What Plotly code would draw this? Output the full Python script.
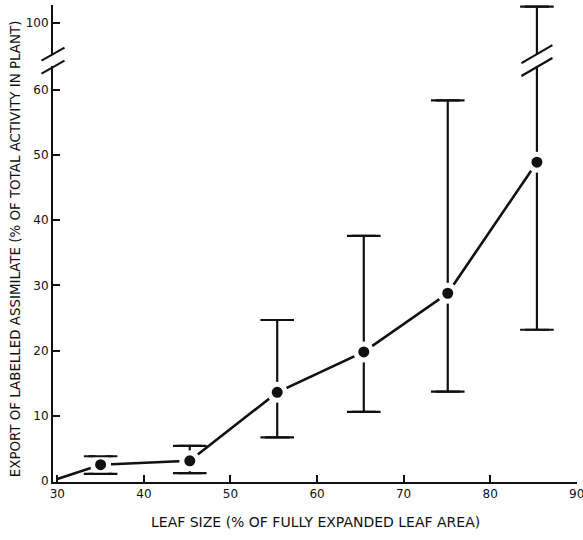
import plotly.graph_objects as go

# ---- data ----
leaf_size = [35.0, 45.3, 55.4, 65.4, 75.1, 85.4]
export_mean = [2.5, 3.1, 13.6, 19.8, 28.8, 48.9]
err_high = [3.8, 5.4, 24.7, 37.6, 58.4, 102.5]
err_low = [1.1, 1.2, 6.7, 10.6, 13.7, 23.2]
line_start_x = [30.0]
line_start_y = [0.3]

x_ticks = [30, 40, 50, 60, 70, 80, 90]
y_ticks_low = [0, 10, 20, 30, 40, 50, 60]
y_ticks_high = [100]

x_title = "LEAF SIZE (% OF FULLY EXPANDED LEAF AREA)"
y_title = "EXPORT OF LABELLED ASSIMILATE (% OF TOTAL ACTIVITY IN PLANT)"

# ---- layout geometry ----
W, H = 583, 540
ml, mr, mt, mb = 53, 6, 5, 58
low_dom = [0, 0.872]
high_dom = [0.895, 1.0]
low_range = [-0.15, 63.65]
high_range = [95.09, 102.76]
x_range = [29.5, 90.03]

FONT = "DejaVu Sans"
INK = "#111111"

plus = [h - m for h, m in zip(err_high, export_mean)]
minus = [m - l for m, l in zip(export_mean, err_low)]

fig = go.Figure()

# error bars (lower and upper panels)
for ya in ["y", "y2"]:
    fig.add_trace(go.Scatter(
        x=leaf_size, y=export_mean, mode="markers", yaxis=ya,
        marker=dict(size=1, color="rgba(0,0,0,0)"),
        error_y=dict(type="data", symmetric=False, array=plus, arrayminus=minus,
                     color=INK, thickness=2.2, width=12),
        hoverinfo="skip", showlegend=False))

# connecting line
fig.add_trace(go.Scatter(
    x=line_start_x + leaf_size, y=line_start_y + export_mean, mode="lines",
    line=dict(color=INK, width=2.6), showlegend=False, hoverinfo="skip"))

# points with white halo (gaps)
fig.add_trace(go.Scatter(
    x=leaf_size, y=export_mean, mode="markers",
    marker=dict(size=16, color=INK, line=dict(color="white", width=5)),
    showlegend=False))

# caps redrawn on top so the halo never hides them
for ya, vals in [("y", err_high[:-1] + err_low), ("y2", [err_high[-1]])]:
    xs = leaf_size[:-1] + leaf_size if ya == "y" else [leaf_size[-1]]
    fig.add_trace(go.Scatter(
        x=xs, y=vals, mode="markers", yaxis=ya,
        marker=dict(symbol="line-ew", size=24, color=INK,
                    line=dict(color=INK, width=2.2)),
        hoverinfo="skip", showlegend=False))

# ---- break marks ----
plot_w = W - ml - mr
plot_h = H - mt - mb
gap_lo = low_dom[1]
gap_hi = high_dom[0]
dx = 11.5 / plot_w
dy = 6.5 / plot_h
shapes = []
for yc in [gap_lo - 0.002, gap_hi + 0.002]:
    shapes.append(dict(type="line", xref="paper", yref="paper",
                       x0=-dx, x1=dx, y0=yc - dy, y1=yc + dy,
                       line=dict(color=INK, width=2)))
bar_x = leaf_size[-1]
ddx = 15.5 / plot_w * (x_range[1] - x_range[0])
ddy = 9 / plot_h
for yc in [gap_lo - 0.002, gap_hi + 0.002]:
    shapes.append(dict(type="line", xref="x", yref="paper",
                       x0=bar_x - ddx, x1=bar_x + ddx, y0=yc - ddy, y1=yc + ddy,
                       line=dict(color=INK, width=2.2)))

axis_common = dict(showline=True, linecolor=INK, linewidth=2, ticks="inside",
                   ticklen=7, tickwidth=1.8, tickcolor=INK, showgrid=False,
                   zeroline=False, ticklabeloverflow="allow", automargin=False,
                   tickfont=dict(family=FONT, size=12, color=INK))

fig.update_layout(
    width=W, height=H,
    margin=dict(l=ml, r=mr, t=mt, b=mb, autoexpand=False),
    paper_bgcolor="white", plot_bgcolor="white",
    xaxis=dict(range=x_range, tickvals=x_ticks, anchor="y", **axis_common),
    yaxis=dict(range=low_range, domain=low_dom, tickvals=y_ticks_low, anchor="x",
               **axis_common),
    yaxis2=dict(range=high_range, domain=high_dom, tickvals=y_ticks_high, anchor="x",
                **axis_common),
    shapes=shapes,
    annotations=[
        dict(text=x_title, xref="paper", yref="paper", x=0.5, y=-0.084,
             xanchor="center", yanchor="middle", showarrow=False,
             font=dict(family=FONT, size=14, color=INK)),
        dict(text=y_title, xref="paper", yref="paper", x=-0.0725, y=0.488,
             xanchor="center", yanchor="middle", showarrow=False, textangle=-90,
             font=dict(family=FONT, size=13.4, color=INK)),
    ],
)

fig.write_html("out.html", config={"displayModeBar": False},
               post_script="document.body.style.margin='0';")
